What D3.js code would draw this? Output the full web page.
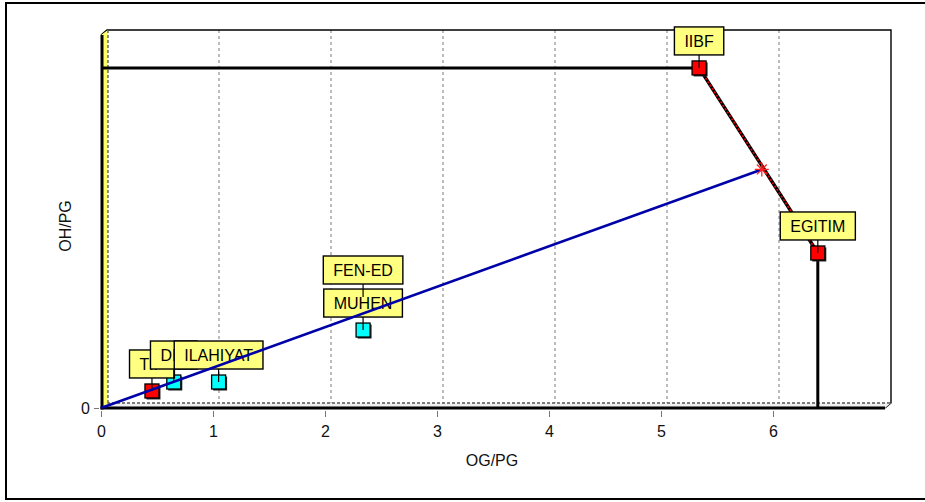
<!DOCTYPE html>
<html>
<head>
<meta charset="utf-8">
<script src="https://cdn.jsdelivr.net/npm/d3@7/dist/d3.min.js"></script>
<style>
  html, body { margin: 0; padding: 0; background: #fff; }
  svg { display: block; font-family: "Liberation Sans", Arial, sans-serif; }
</style>
</head>
<body>
<svg id="chart" width="925" height="502"></svg>
<script>
// ---- Data ----
const categories = ["TIP", "DIS", "ILAHIYAT", "MUHEN", "FEN-ED", "IIBF", "EGITIM"];
const ogPg = [0.455, 0.65, 1.05, 2.34, 2.34, 5.34, 6.40];   // x: OG/PG
const ohPg = [0.152, 0.232, 0.232, 0.696, 0.991, 3.036, 1.384]; // y: OH/PG
const efficient = [true, false, false, false, false, true, true];
const frontierNames = ["IIBF", "EGITIM"];
const projection = [[0, 0], [5.90, 2.13]];   // ray from origin to frontier
const xTicks = [0, 1, 2, 3, 4, 5, 6];
const yTicks = [0];
const xDomain = [0, 7];
const yDomain = [0, 3.33];
const xTitle = "OG/PG";
const yTitle = "OH/PG";

// ---- Layout ----
const svg = d3.select("#chart");
const pL = 101, pR = 885, pT = 35, pB = 408;
const dx = 6, dy = -5; // 3D depth offset
const x = d3.scaleLinear().domain(xDomain).range([pL, pR]);
const y = d3.scaleLinear().domain(yDomain).range([pB, pT]);

// outer frame
svg.append("rect").attr("x", 6).attr("y", 3).attr("width", 940).attr("height", 496)
  .attr("fill", "#fff").attr("stroke", "#000").attr("stroke-width", 2);

// back wall
svg.append("rect").attr("x", pL + dx).attr("y", pT + dy).attr("width", pR - pL).attr("height", pB - pT)
  .attr("fill", "#fff").attr("stroke", "none");

// vertical grid lines on back wall
svg.append("g").selectAll("line").data(xTicks.filter(d => d > 0)).join("line")
  .attr("x1", d => x(d) + dx).attr("x2", d => x(d) + dx)
  .attr("y1", pT + dy).attr("y2", pB + dy)
  .attr("stroke", "#999").attr("stroke-width", 1.3).attr("stroke-dasharray", "3,3");

// back wall top and right edges
svg.append("path")
  .attr("d", `M${pL},${pT} L${pL + dx},${pT + dy} L${pR + dx},${pT + dy} L${pR + dx},${pB + dy} L${pR},${pB}`)
  .attr("fill", "none").attr("stroke", "#000").attr("stroke-width", 1.4);

// floor
svg.append("path")
  .attr("d", `M${pL},${pB} L${pL + dx},${pB + dy} L${pR + dx},${pB + dy} L${pR},${pB} Z`)
  .attr("fill", "#f0f0f0").attr("stroke", "none");
svg.append("line").attr("x1", pL + dx).attr("x2", pR + dx).attr("y1", y(yTicks[0]) + dy).attr("y2", y(yTicks[0]) + dy)
  .attr("stroke", "#555").attr("stroke-width", 1.4).attr("stroke-dasharray", "3,2");

// left wall (yellow)
svg.append("path")
  .attr("d", `M${pL},${pB} L${pL},${pT} L${pL + dx + 1},${pT + dy} L${pL + dx + 1},${pB + dy} Z`)
  .attr("fill", "#ffff66").attr("stroke", "none");
svg.append("line").attr("x1", pL + dx + 1).attr("x2", pL + dx + 1).attr("y1", pT + dy).attr("y2", pB + dy)
  .attr("stroke", "#555").attr("stroke-width", 1.3).attr("stroke-dasharray", "3,2");

// axes lines (front)
svg.append("line").attr("x1", pL + 1).attr("x2", pL + 1).attr("y1", pT).attr("y2", pB + 1.5)
  .attr("stroke", "#000").attr("stroke-width", 3);
svg.append("line").attr("x1", pL - 0.5).attr("x2", pR).attr("y1", pB).attr("y2", pB)
  .attr("stroke", "#000").attr("stroke-width", 3);

// x axis ticks
const xAxis = d3.axisBottom(x).tickValues(xTicks).tickFormat(d3.format("d")).tickSize(6).tickPadding(9);
const gx = svg.append("g").attr("transform", `translate(0,${pB + 3})`).call(xAxis);
gx.select(".domain").remove();
gx.selectAll(".tick line").attr("stroke", "#777");
gx.selectAll(".tick text").attr("font-size", 16).attr("fill", "#111").attr("font-family", "Liberation Sans, Arial, sans-serif");

// y axis ticks
const yAxis = d3.axisLeft(y).tickValues(yTicks).tickFormat(d3.format("d")).tickSize(5).tickPadding(4);
const gy = svg.append("g").attr("transform", `translate(${pL - 2},0)`).call(yAxis);
gy.select(".domain").remove();
gy.selectAll(".tick line").attr("stroke", "#777");
gy.selectAll(".tick text").attr("font-size", 16).attr("fill", "#111").attr("font-family", "Liberation Sans, Arial, sans-serif");

// axis titles
svg.append("text").attr("x", 492).attr("y", 466).attr("text-anchor", "middle")
  .attr("font-size", 16).attr("fill", "#111").text(xTitle);
svg.append("text").attr("transform", `translate(71,${226}) rotate(-90)`).attr("text-anchor", "middle")
  .attr("font-size", 16).attr("fill", "#111").text(yTitle);

// ---- Data marks ----
const pts = categories.map((c, i) => ({ name: c, x: ogPg[i], y: ohPg[i], eff: efficient[i] }));
const fA = pts.find(p => p.name === frontierNames[0]);
const fB = pts.find(p => p.name === frontierNames[1]);

// frontier: horizontal from y-axis, sloped segment, vertical to x-axis
svg.append("line").attr("x1", x(0)).attr("x2", x(fA.x)).attr("y1", y(fA.y)).attr("y2", y(fA.y))
  .attr("stroke", "#000").attr("stroke-width", 3);
svg.append("line").attr("x1", x(fB.x)).attr("x2", x(fB.x)).attr("y1", y(fB.y)).attr("y2", y(0))
  .attr("stroke", "#000").attr("stroke-width", 3);
svg.append("line").attr("x1", x(fA.x)).attr("x2", x(fB.x)).attr("y1", y(fA.y)).attr("y2", y(fB.y))
  .attr("stroke", "#000").attr("stroke-width", 3.4);
svg.append("line").attr("x1", x(fA.x)).attr("x2", x(fB.x)).attr("y1", y(fA.y)).attr("y2", y(fB.y))
  .attr("stroke", "#e00000").attr("stroke-width", 1.8).attr("stroke-dasharray", "2,2");

// markers
const ms = 14;
const gm = svg.append("g");
pts.forEach(p => {
  const cx = x(p.x), cy = y(p.y);
  gm.append("rect").attr("x", cx - ms / 2 + 1.5).attr("y", cy - ms / 2 + 1.5).attr("width", ms).attr("height", ms)
    .attr("fill", "#222");
  gm.append("rect").attr("x", cx - ms / 2).attr("y", cy - ms / 2).attr("width", ms).attr("height", ms)
    .attr("fill", p.eff ? "#ff0000" : "#00ffff").attr("stroke", "#000").attr("stroke-width", 1.3);
});

// labels (drawn in series order; later ones cover earlier ones)
const gl = svg.append("g");
const boxH = 28, gap = 13, padX = 10;
pts.forEach(p => {
  const cx = x(p.x), cy = y(p.y);
  const g = gl.append("g");
  g.append("line").attr("x1", cx).attr("x2", cx).attr("y1", cy - gap).attr("y2", cy)
    .attr("stroke", "#000").attr("stroke-width", 1.2);
  const rect = g.append("rect");
  const t = g.append("text").attr("x", cx).attr("y", cy - gap - boxH / 2 + 6)
    .attr("text-anchor", "middle").attr("font-size", 16).attr("fill", "#000").text(p.name);
  const w = t.node().getComputedTextLength() + 2 * padX;
  rect.attr("x", cx - w / 2).attr("y", cy - gap - boxH).attr("width", w).attr("height", boxH)
    .attr("fill", "#ffff80").attr("stroke", "#000").attr("stroke-width", 1.4);
});

// projection ray
svg.append("line")
  .attr("x1", x(projection[0][0])).attr("y1", y(projection[0][1]))
  .attr("x2", x(projection[1][0])).attr("y2", y(projection[1][1]))
  .attr("stroke", "#0000a8").attr("stroke-width", 2.6);

// star at projection point
const sx = x(projection[1][0]), sy = y(projection[1][1]);
const star = svg.append("g").attr("transform", `translate(${sx},${sy})`);
[0, 45, 90, 135].forEach(a => {
  star.append("line").attr("x1", -7).attr("x2", 7).attr("y1", 0).attr("y2", 0)
    .attr("transform", `rotate(${a})`).attr("stroke", "#ff2020").attr("stroke-width", 1.3);
});
</script>
</body>
</html>
